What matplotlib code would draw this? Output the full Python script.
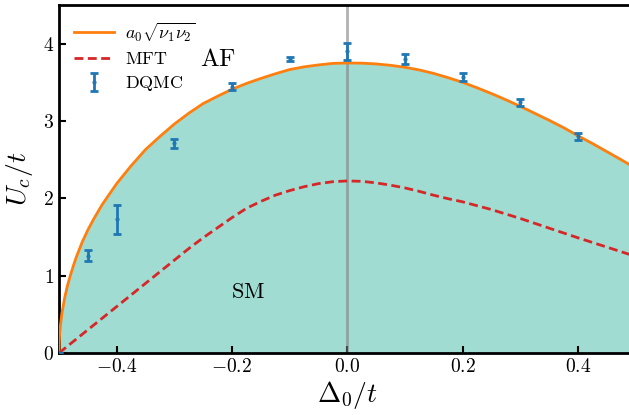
import matplotlib
matplotlib.use("Agg")
import matplotlib.pyplot as plt
import numpy as np

plt.rcParams['mathtext.fontset'] = 'cm'
plt.rcParams['font.family'] = ['serif']
plt.rcParams['font.serif'] = ['cmr10', 'DejaVu Serif']

# analytic curve a0*sqrt(nu1 nu2)
delta_curve = [-0.5, -0.4995, -0.499, -0.4975, -0.495, -0.49, -0.485, -0.48, -0.475, -0.47,
               -0.46, -0.45, -0.44, -0.425, -0.4, -0.375, -0.35, -0.325, -0.3, -0.275,
               -0.25, -0.225, -0.2, -0.175, -0.15, -0.125, -0.1, -0.075, -0.05, -0.025,
               0.0, 0.025, 0.05, 0.075, 0.1, 0.125, 0.15, 0.175, 0.2, 0.225, 0.25,
               0.275, 0.3, 0.325, 0.35, 0.375, 0.4, 0.425, 0.45, 0.475, 0.5]
uc_curve = [0.0, 0.16, 0.23, 0.36, 0.51, 0.72, 0.88, 1.01, 1.13, 1.24,
            1.43, 1.59, 1.73, 1.92, 2.19, 2.42, 2.63, 2.80, 2.96, 3.10,
            3.225, 3.32, 3.41, 3.485, 3.55, 3.61, 3.665, 3.70, 3.725, 3.745,
            3.75, 3.748, 3.738, 3.72, 3.695, 3.66, 3.615, 3.56, 3.50, 3.43, 3.355,
            3.275, 3.19, 3.10, 3.01, 2.915, 2.81, 2.71, 2.605, 2.50, 2.39]

# mean-field theory
delta_mft = [-0.5, -0.45, -0.4, -0.35, -0.3, -0.275, -0.25, -0.225, -0.2, -0.175, -0.15,
             -0.125, -0.1, -0.075, -0.05, -0.025, 0.0, 0.025, 0.05, 0.075, 0.1, 0.125,
             0.15, 0.175, 0.2, 0.25, 0.3, 0.35, 0.4, 0.45, 0.5]
uc_mft = [0.0, 0.30, 0.60, 0.90, 1.20, 1.35, 1.49, 1.62, 1.75, 1.87, 1.96,
          2.04, 2.10, 2.15, 2.19, 2.215, 2.225, 2.22, 2.20, 2.17, 2.135, 2.09,
          2.04, 1.995, 1.955, 1.855, 1.74, 1.615, 1.49, 1.37, 1.25]

# DQMC
delta_qmc = [-0.5, -0.45, -0.4, -0.3, -0.2, -0.1, 0.0, 0.1, 0.2, 0.3, 0.4]
uc_qmc = [0.0, 1.26, 1.73, 2.71, 3.445, 3.80, 3.90, 3.80, 3.57, 3.24, 2.80]
err_qmc = [0.0, 0.07, 0.19, 0.06, 0.04, 0.03, 0.11, 0.06, 0.05, 0.05, 0.04]

xticks = [-0.4, -0.2, 0.0, 0.2, 0.4]
xticklabels = [r'$-0.4$', r'$-0.2$', r'$0.0$', r'$0.2$', r'$0.4$']
yticks = [0, 1, 2, 3, 4]
yticklabels = [r'$0$', r'$1$', r'$2$', r'$3$', r'$4$']

fig = plt.figure(figsize=(6.29, 4.15), dpi=100)
ax = fig.add_axes([59/629, 62/415, (635.5-59)/629, (353-5)/415])

ax.fill_between(delta_curve, 0, uc_curve, color='#a1dcd2', lw=0, zorder=1)
ax.axvline(0.0, color='gray', alpha=0.6, lw=2, zorder=2)
ax.plot(delta_curve, uc_curve, color='#ff7f0e', lw=2, zorder=3,
        label=r'$a_0\sqrt{\nu_1\nu_2}$')
ax.plot(delta_mft, uc_mft, color='#d62728', lw=2, ls=(0, (3.2, 1.6)), zorder=3,
        label=r'$\mathrm{MFT}$')
ax.errorbar(delta_qmc, uc_qmc, yerr=err_qmc, fmt='.', color='#1f77b4', ms=4,
            elinewidth=2, capsize=3, capthick=2, zorder=4, label=r'$\mathrm{DQMC}$')

ax.text(-0.224, 3.79, r'$\mathrm{AF}$', fontsize=18, ha='center', va='center')
ax.text(-0.172, 0.79, r'$\mathrm{SM}$', fontsize=16, ha='center', va='center')

ax.set_xlim(-0.5, 0.5)
ax.set_ylim(0, 4.5)
ax.set_xticks(xticks)
ax.set_xticklabels(xticklabels)
ax.set_yticks(yticks)
ax.set_yticklabels(yticklabels)
ax.tick_params(direction='in', length=5, width=1.5, labelsize=14, top=False, right=False)
for s in ax.spines.values():
    s.set_linewidth(2)

ax.set_xlabel(r'$\Delta_0/t$', fontsize=20, labelpad=2)
ax.set_ylabel(r'$U_c/t$', fontsize=20, labelpad=6)

ax.legend(loc='upper left', frameon=False, fontsize=13, handlelength=2.2,
          handletextpad=0.6, borderaxespad=0.45, labelspacing=0.4)

fig.savefig('out.png', dpi=100)
